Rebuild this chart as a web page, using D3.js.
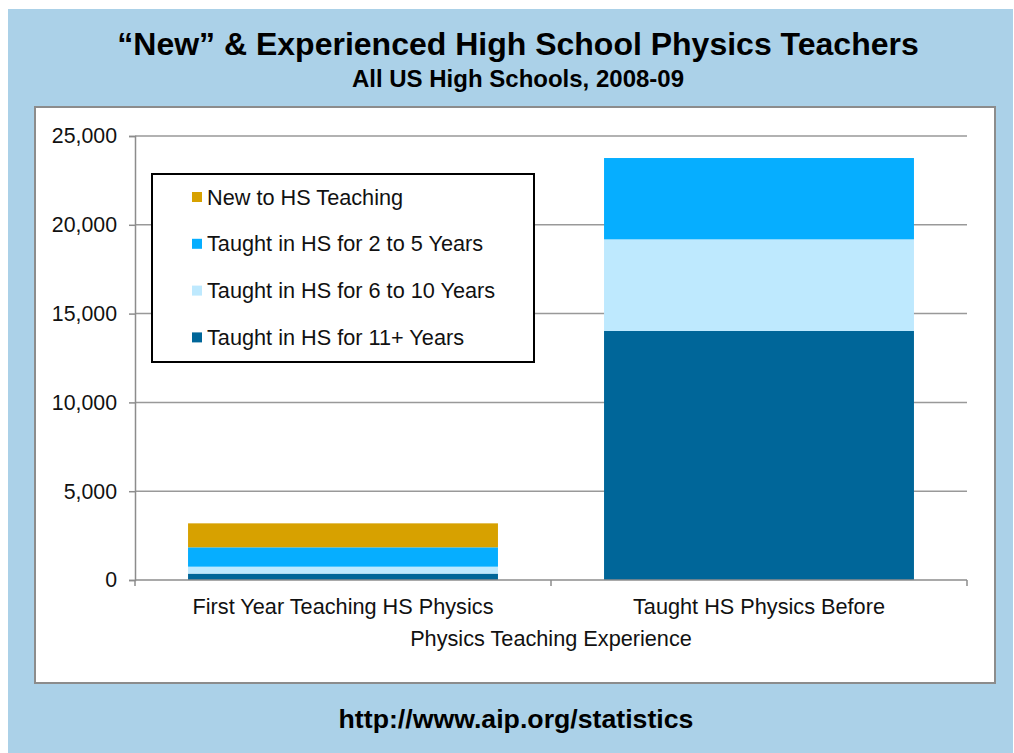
<!DOCTYPE html>
<html>
<head>
<meta charset="utf-8">
<script src="https://cdn.jsdelivr.net/npm/d3@7"></script>
<style>
  body { margin: 0; background: #fff; }
  text { font-family: "Liberation Sans", Arial, sans-serif; }
</style>
</head>
<body>
<script>
// chart data
var categories = ["First Year Teaching HS Physics", "Taught HS Physics Before"];
var seriesNames = ["Taught in HS for 11+ Years", "Taught in HS for 6 to 10 Years",
                   "Taught in HS for 2 to 5 Years", "New to HS Teaching"];
var years11plus = [360, 14020];
var years6to10 = [390, 5160];
var years2to5 = [1090, 4580];
var newToHS = [1350, 0];
var yTicks = [0, 5000, 10000, 15000, 20000, 25000];
var colors = ["#006699", "#bee9fe", "#06aeff", "#d7a100"];

var svgWidth = 1014, svgHeight = 753;
var labelSize = "21.7px";

var svg = d3.select("body").append("svg")
  .attr("width", svgWidth)
  .attr("height", svgHeight);

// light blue slide background
svg.append("rect")
  .attr("x", 8).attr("y", 9)
  .attr("width", 1005).attr("height", 744)
  .attr("fill", "#abd1e8");

// titles
svg.append("text")
  .attr("x", 518).attr("y", 55)
  .attr("text-anchor", "middle")
  .style("font-size", "32px").style("font-weight", "bold")
  .text("\u201cNew\u201d & Experienced High School Physics Teachers");

svg.append("text")
  .attr("x", 518).attr("y", 87)
  .attr("text-anchor", "middle")
  .style("font-size", "24px").style("font-weight", "bold")
  .text("All US High Schools, 2008-09");

svg.append("text")
  .attr("x", 516).attr("y", 728)
  .attr("text-anchor", "middle")
  .style("font-size", "26.7px").style("font-weight", "bold")
  .text("http://www.aip.org/statistics");

// white chart panel
svg.append("rect")
  .attr("x", 35).attr("y", 107)
  .attr("width", 960).attr("height", 576)
  .attr("fill", "#fff")
  .attr("stroke", "#8c8c8c")
  .attr("stroke-width", 2);

var plot = { left: 135, right: 967, top: 136, bottom: 580 };

var x = d3.scaleBand()
  .domain(categories)
  .range([plot.left, plot.right])
  .paddingInner(0.255)
  .paddingOuter(0.1275);

var y = d3.scaleLinear()
  .domain([0, 25000])
  .range([plot.bottom, plot.top]);

// gridlines
svg.append("g")
  .selectAll("line")
  .data(yTicks.slice(1))
  .join("line")
  .attr("x1", plot.left).attr("x2", plot.right)
  .attr("y1", d => y(d)).attr("y2", d => y(d))
  .attr("stroke", "#999")
  .attr("stroke-width", 1.5);

// stacked bars
var rows = categories.map((c, i) => ({
  cat: c,
  "Taught in HS for 11+ Years": years11plus[i],
  "Taught in HS for 6 to 10 Years": years6to10[i],
  "Taught in HS for 2 to 5 Years": years2to5[i],
  "New to HS Teaching": newToHS[i]
}));
var stacked = d3.stack().keys(seriesNames)(rows);

svg.append("g")
  .selectAll("g")
  .data(stacked)
  .join("g")
  .attr("fill", (d, i) => colors[i])
  .selectAll("rect")
  .data(d => d)
  .join("rect")
  .attr("x", d => x(d.data.cat))
  .attr("width", x.bandwidth())
  .attr("y", d => y(d[1]))
  .attr("height", d => y(d[0]) - y(d[1]));

// y axis
var yAxis = svg.append("g")
  .attr("transform", `translate(${plot.left},0)`)
  .call(d3.axisLeft(y).tickValues(yTicks).tickSize(6).tickPadding(12)
    .tickFormat(d3.format(",")));
yAxis.select(".domain").attr("stroke", "#8c8c8c").attr("stroke-width", 1.5);
yAxis.selectAll(".tick line").attr("stroke", "#8c8c8c").attr("stroke-width", 1.5);
yAxis.selectAll("text")
  .style("font-size", "21.3px")
  .style("font-family", "'Liberation Sans', Arial, sans-serif")
  .attr("fill", "#111");

// x axis with ticks between categories
var xAxisG = svg.append("g")
  .attr("transform", `translate(0,${plot.bottom})`);
xAxisG.append("line")
  .attr("x1", plot.left).attr("x2", plot.right)
  .attr("stroke", "#8c8c8c").attr("stroke-width", 1.5);
var xTickPos = [plot.left, (x(categories[0]) + x.bandwidth() + x(categories[1])) / 2, plot.right];
xAxisG.selectAll(".xt")
  .data(xTickPos)
  .join("line")
  .attr("class", "xt")
  .attr("x1", d => d).attr("x2", d => d)
  .attr("y1", 0).attr("y2", 6)
  .attr("stroke", "#8c8c8c").attr("stroke-width", 1.5);
xAxisG.selectAll(".xl")
  .data(categories)
  .join("text")
  .attr("class", "xl")
  .attr("x", d => x(d) + x.bandwidth() / 2)
  .attr("y", 34)
  .attr("text-anchor", "middle")
  .style("font-size", labelSize)
  .attr("fill", "#111")
  .text(d => d);

// axis title
svg.append("text")
  .attr("x", 551).attr("y", 646)
  .attr("text-anchor", "middle")
  .style("font-size", labelSize)
  .attr("fill", "#111")
  .text("Physics Teaching Experience");

// legend (top entry is the top of the stack)
var legend = svg.append("g");
legend.append("rect")
  .attr("x", 152).attr("y", 174)
  .attr("width", 382).attr("height", 188)
  .attr("fill", "#fff")
  .attr("stroke", "#000")
  .attr("stroke-width", 2);

var legendOrder = seriesNames.slice().reverse();
var legendColors = colors.slice().reverse();
var items = legend.selectAll(".item")
  .data(legendOrder)
  .join("g")
  .attr("class", "item")
  .attr("transform", (d, i) => `translate(192,${197 + i * 46.8})`);
items.append("rect")
  .attr("x", 0).attr("y", -5)
  .attr("width", 10).attr("height", 10)
  .attr("fill", (d, i) => legendColors[i]);
items.append("text")
  .attr("x", 15).attr("y", 7.5)
  .style("font-size", labelSize)
  .attr("fill", "#111")
  .text(d => d);
</script>
</body>
</html>
